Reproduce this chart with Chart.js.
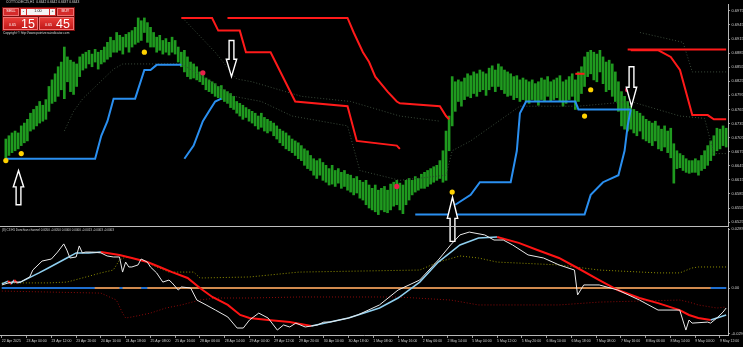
<!DOCTYPE html>
<html><head><meta charset="utf-8">
<script src="https://cdn.jsdelivr.net/npm/chart.js@4.4.1/dist/chart.umd.min.js"></script>
<style>
html,body{margin:0;padding:0;background:#000;width:743px;height:347px;overflow:hidden;}
#wrap{position:relative;width:743px;height:347px;}
canvas{position:absolute;left:0;}
#ind{top:227px;z-index:1;}
#main{top:0;z-index:2;pointer-events:none;}
.t{position:absolute;font-family:"Liberation Sans",Arial,sans-serif;color:#d8d8d8;white-space:nowrap;line-height:1;z-index:5;}
.p{position:absolute;z-index:6;font-family:"Liberation Sans",Arial,sans-serif;line-height:1;box-sizing:border-box;}
.btn{background:#d42a2a;color:#fff;font-size:3.8px;display:flex;align-items:center;justify-content:center;border:0.5px solid #f07070;}
.wbox{background:#f4f4f4;color:#222;font-size:3.8px;display:flex;align-items:center;justify-content:center;}
.big{background:linear-gradient(#ea3d38,#c01818);border:0.5px solid #f07070;}
.sm{position:absolute;color:#fff;font-size:3.6px;}
.lg{position:absolute;color:#fff;font-size:12.5px;}
</style></head>
<body><div id="wrap">
<canvas id="ind" width="743" height="120"></canvas>
<canvas id="main" width="743" height="260"></canvas>
<div class="t" style="left:6px;top:0.5px;font-size:3.3px;">COTTO-DEC25,H1&nbsp; 0.6642 0.6642 0.6637 0.6643</div>
<div class="p" style="left:2px;top:7px;width:73px;height:24px;background:#7a0e0e;"></div>
<div class="p btn" style="left:3px;top:8px;width:16px;height:8px;">SELL</div>
<div class="p" style="left:20px;top:8px;width:36px;height:8px;background:#d42a2a;"></div>
<div class="p wbox" style="left:21px;top:9px;width:5px;height:6px;">-</div>
<div class="p wbox" style="left:27px;top:9px;width:22px;height:6px;">1.00</div>
<div class="p wbox" style="left:50px;top:9px;width:5px;height:6px;">+</div>
<div class="p btn" style="left:57px;top:8px;width:17px;height:8px;">BUY</div>
<div class="p big" style="left:3px;top:17px;width:35px;height:13px;"><span class="sm" style="left:5px;top:5.5px;">0.65</span><span class="lg" style="left:17px;top:0px;">15</span></div>
<div class="p big" style="left:39px;top:17px;width:35px;height:13px;"><span class="sm" style="left:5px;top:5.5px;">0.65</span><span class="lg" style="left:16px;top:0px;">45</span></div>
<div class="t" style="left:3px;top:31.5px;font-size:3.2px;">Copyright © http://www.pointzero-indicator.com</div>
<div class="t" style="left:2px;top:229px;font-size:3px;">(8) C3 H1 Donchian channel 0.0050 -0.0050 0.0000 0.0000 -0.0013 -0.0003 -0.0003</div>
</div>
<script>
// ---------- DATA ----------
// time-axis labels, one every 8 hourly bars (bar 0, 8, 16, ...)
const timeLabels = ['22 Apr 2025','23 Apr 04:00','23 Apr 12:00','23 Apr 20:00','24 Apr 10:00','24 Apr 18:00','25 Apr 08:00','25 Apr 16:00','28 Apr 06:00','28 Apr 14:00','29 Apr 04:00','29 Apr 12:00','29 Apr 20:00','30 Apr 10:00','30 Apr 18:00','1 May 08:00','1 May 16:00','2 May 06:00','2 May 14:00','5 May 04:00','5 May 12:00','5 May 20:00','6 May 10:00','6 May 18:00','7 May 08:00','7 May 16:00','8 May 06:00','8 May 14:00','9 May 04:00','9 May 12:00'];
const priceTicks = [0.6975,0.6945,0.6915,0.6885,0.6855,0.6825,0.6795,0.6765,0.6735,0.6705,0.6675,0.6645,0.6615,0.6585,0.6555,0.6525];
const indTickValues = [0.0289, 0, -0.0225];
const indTickLabels = ['0.0289','0.00','-0.0291'];

// hourly bar highs / lows
const highs = [
.6702,.6709,.6715,.6719,.6715,.6730,.6736,.6744,
.6757,.6765,.6772,.6782,.6774,.6786,.6814,.6828,
.6841,.6856,.6866,.6898,.6877,.6870,.6866,.6862,
.6877,.6883,.6887,.6891,.6883,.6893,.6887,.6891,
.6898,.6908,.6919,.6912,.6929,.6923,.6919,.6925,
.6929,.6933,.6940,.6960,.6954,.6960,.6950,.6940,
.6929,.6919,.6923,.6912,.6916,.6908,.6919,.6912,
.6898,.6887,.6891,.6877,.6866,.6862,.6856,.6845,
.6839,.6832,.6828,.6824,.6820,.6814,.6816,.6807,
.6803,.6799,.6793,.6782,.6778,.6774,.6769,.6765,
.6761,.6757,.6751,.6757,.6748,.6744,.6740,.6736,
.6730,.6723,.6719,.6715,.6709,.6702,.6698,.6694,
.6688,.6681,.6677,.6667,.6660,.6656,.6660,.6652,
.6646,.6639,.6646,.6635,.6639,.6631,.6635,.6627,
.6625,.6618,.6622,.6614,.6610,.6614,.6604,.6597,
.6604,.6593,.6597,.6601,.6593,.6606,.6610,.6614,
.6608,.6604,.6614,.6618,.6614,.6622,.6618,.6627,
.6631,.6635,.6639,.6643,.6646,.6656,.6677,.6719,
.6751,.6835,.6824,.6828,.6824,.6832,.6841,.6837,
.6845,.6841,.6849,.6845,.6841,.6853,.6858,.6849,
.6862,.6856,.6849,.6845,.6841,.6835,.6837,.6828,
.6832,.6828,.6824,.6828,.6820,.6824,.6832,.6828,
.6835,.6824,.6828,.6832,.6837,.6824,.6828,.6835,
.6841,.6828,.6845,.6856,.6877,.6887,.6891,.6887,
.6883,.6891,.6877,.6866,.6870,.6862,.6845,.6824,
.6803,.6793,.6782,.6772,.6765,.6761,.6757,.6751,
.6744,.6740,.6736,.6740,.6730,.6723,.6730,.6719,
.6725,.6692,.6677,.6671,.6667,.6660,.6656,.6656,
.6660,.6656,.6667,.6677,.6688,.6698,.6709,.6725,
.6723,.6730,.6725];
const lows = [
.6660,.6667,.6673,.6677,.6681,.6688,.6694,.6698,
.6719,.6723,.6730,.6736,.6740,.6744,.6761,.6778,
.6782,.6793,.6807,.6788,.6824,.6803,.6797,.6814,
.6835,.6849,.6853,.6862,.6856,.6866,.6851,.6862,
.6866,.6872,.6877,.6887,.6887,.6891,.6883,.6898,
.6887,.6898,.6904,.6908,.6912,.6929,.6908,.6898,
.6898,.6887,.6891,.6883,.6887,.6881,.6887,.6883,
.6866,.6856,.6845,.6835,.6830,.6832,.6828,.6824,
.6818,.6807,.6803,.6799,.6793,.6790,.6786,.6782,
.6778,.6769,.6765,.6757,.6751,.6744,.6748,.6740,
.6736,.6730,.6723,.6727,.6719,.6715,.6719,.6709,
.6702,.6694,.6688,.6681,.6677,.6673,.6667,.6660,
.6656,.6646,.6639,.6635,.6625,.6618,.6625,.6614,
.6610,.6604,.6606,.6601,.6608,.6597,.6601,.6593,
.6589,.6583,.6587,.6576,.6572,.6562,.6555,.6551,
.6547,.6541,.6551,.6547,.6545,.6551,.6559,.6562,
.6551,.6543,.6562,.6572,.6583,.6589,.6593,.6597,
.6597,.6601,.6606,.6610,.6614,.6618,.6610,.6614,
.6677,.6730,.6761,.6782,.6772,.6786,.6793,.6790,
.6799,.6793,.6803,.6807,.6795,.6807,.6814,.6803,
.6814,.6807,.6799,.6793,.6795,.6786,.6790,.6782,
.6786,.6782,.6778,.6786,.6782,.6774,.6786,.6782,
.6793,.6782,.6786,.6790,.6782,.6772,.6778,.6786,
.6793,.6765,.6782,.6799,.6814,.6835,.6841,.6828,
.6824,.6845,.6820,.6803,.6807,.6793,.6782,.6761,
.6730,.6723,.6719,.6723,.6715,.6709,.6719,.6702,
.6698,.6694,.6688,.6698,.6681,.6677,.6685,.6673,
.6662,.6608,.6639,.6641,.6635,.6631,.6629,.6631,
.6631,.6625,.6635,.6639,.6646,.6656,.6667,.6677,
.6681,.6688,.6685];

// Donchian upper (red) lines: bar index / price
const redA_i = [57,67,69,76,78,86,94,111,114,127,128];
const redA_p = [.6960,.6960,.6933,.6933,.6887,.6887,.6782,.6772,.6698,.6688,.6681];
const redB_i = [72,111,113,116,118,120,124,127,128,141,143,144];
const redB_p = [.6960,.6960,.6929,.6887,.6866,.6835,.6803,.6782,.6778,.6772,.6751,.6744];
const redC_i = [202,234];
const redC_p = [.6893,.6893];
const redD_i = [203,212,216,219,223,228,230,234];
const redD_p = [.6891,.6891,.6877,.6849,.6753,.6753,.6744,.6744];
const redE_i = [185,188];
const redE_p = [.6841,.6841];
// Donchian lower (blue) lines
const blueA_i = [0,29,31,33,35,42,45,47,49,57];
const blueA_p = [.6660,.6660,.6709,.6740,.6788,.6788,.6849,.6849,.6860,.6860];
const blueB_i = [58,61,64,66,68,70];
const blueB_p = [.6660,.6688,.6740,.6761,.6782,.6788];
const blueC_i = [133,188,190,194,199,201,202,203];
const blueC_p = [.6541,.6541,.6583,.6610,.6625,.6677,.6730,.6765];
const blueD_i = [146,151,154,164,166,167,169,185,186,203];
const blueD_p = [.6562,.6583,.6610,.6610,.6677,.6757,.6782,.6782,.6765,.6765];
// Donchian middle (dotted) lines
const mid1_i = [19,22,25,35,38,57,64,74,83,93,111,115,128,143,145,151,167,186,203,219,227,230,234];
const mid1_p = [.6719,.6761,.6788,.6851,.6862,.6862,.6835,.6793,.6782,.6751,.6730,.6635,.6614,.6625,.6677,.6698,.6772,.6772,.6782,.6751,.6746,.6671,.6671];
const mid2_i = [58,68,75,80,96,112,128,141];
const mid2_p = [.6956,.6887,.6830,.6824,.6793,.6782,.6751,.6740];
const mid3_i = [206,220,223,234];
const mid3_p = [.6929,.6908,.6845,.6845];
// signal dots
const yellowDot_i = [0,5,45,145,188,190];
const yellowDot_p = [.6656,.6671,.6887,.6589,.6751,.6807];
const redDot_i = [64,127,202];
const redDot_p = [.6843,.6601,.6807];
// arrows: bar, tip price, tail price
const arrow_i = [4,73,145,203];
const arrow_tip = [.6635,.6835,.6578,.6772];
const arrow_tail = [.6562,.6912,.6484,.6856];

// indicator pane
const white_i = [0,3,6,9,10,13,16,18,20,21,22,24,25,26,27,29,32,34,36,38,39,40,41,42,44,45,47,48,50,52,54,55,57,58,61,63,66,69,73,76,78,80,83,86,89,91,93,95,98,102,104,106,112,115,122,128,135,141,145,148,151,156,159,162,165,170,175,180,185,186,188,193,199,206,212,219,220,221,222,223,228,229,231,233,234];
const white_v = [.0015,.0029,.0029,.0054,.0088,.0132,.0142,.0176,.0216,.0186,.0147,.0152,.0206,.0172,.0176,.0176,.0172,.0157,.0152,.0152,.0078,.0127,.0103,.0103,.0113,.0142,.0127,.0103,.0074,.0029,.0039,.0025,-.0010,.0005,.0000,-.0059,-.0083,-.0108,-.0142,-.0196,-.0196,-.0157,-.0123,-.0147,-.0206,-.0181,-.0191,-.0172,-.0191,-.0181,-.0167,-.0167,-.0147,-.0132,-.0083,-.0010,.0039,.0137,.0211,.0260,.0274,.0260,.0235,.0235,.0211,.0162,.0147,.0113,.0088,-.0034,.0015,.0015,-.0010,-.0059,-.0108,-.0108,-.0157,-.0206,-.0157,-.0172,-.0167,-.0172,-.0147,-.0118,-.0098];
const signal_i = [0,2,3,4,5,6,12,15,21,24,28,32,38,42,47,51,55,60,64,68,73,77,80,86,93,100,112,122,128,135,141,148,154,160,167,173,180,186,193,199,206,212,219,222,225,229,234];
const signal_v = [.0020,.0034,.0020,.0039,.0025,.0029,.0074,.0098,.0147,.0172,.0172,.0176,.0162,.0147,.0127,.0103,.0078,.0049,.0000,-.0044,-.0083,-.0132,-.0147,-.0157,-.0167,-.0186,-.0147,-.0098,-.0049,.0029,.0127,.0211,.0245,.0250,.0221,.0186,.0147,.0098,.0039,-.0010,-.0049,-.0074,-.0108,-.0132,-.0147,-.0157,-.0132];
const upper_i = [0,15,21,26,32,36,38,40,42,45,50,54,62,64,80,96,135,141,148,154,160,180,193,212,219,223,225,234];
const upper_v = [.0025,.0025,.0029,.0049,.0074,.0088,.0137,.0152,.0147,.0137,.0103,.0078,.0078,.0049,.0054,.0078,.0088,.0127,.0157,.0147,.0127,.0113,.0088,.0074,.0074,.0098,.0103,.0103];
const lower_i = [0,32,37,39,40,42,48,53,58,64,69,80,96,128,145,154,180,193,219,222,225,231,234];
const lower_v = [-.0015,-.0025,-.0059,-.0123,-.0147,-.0142,-.0123,-.0098,-.0083,-.0059,-.0049,-.0049,-.0044,-.0044,-.0059,-.0083,-.0083,-.0069,-.0059,-.0069,-.0083,-.0098,-.0093];
const zeroBlueRanges = [[0,30],[38,39],[45,47],[229,234]];
const nBars = highs.length;

// ---------- CHART ----------
Chart.defaults.font.family = '"Liberation Sans", Arial, sans-serif';
const pts = (xs, ys) => xs.map((x, k) => ({x, y: ys[k]}));
const X_MIN = -0.6, X_MAX = nBars - 0.4;
const Y_MAX = 0.69897, Y_MIN = 0.65167;
const IND_MAX = 0.02939, IND_MIN = -0.02302;
const RED = '#ff1a1a', BLUE = '#2a8ff0', MID = '#3a4a3a';

const lineDs = (xs, ys, color, width, dash, order) => ({
  type: 'line', data: pts(xs, ys), borderColor: color, borderWidth: width,
  borderDash: dash || [], pointRadius: 0, tension: 0, fill: false, order: order
});
const dotDs = (xs, ys, color) => ({
  type: 'line', data: pts(xs, ys), showLine: false, pointRadius: 2.6,
  pointBackgroundColor: color, pointBorderWidth: 0, order: 0, clip: false
});

const mainFrame = {
  id: 'mainFrame',
  afterDraw(chart) {
    const {ctx, chartArea: a} = chart;
    ctx.save(); ctx.strokeStyle = '#bdbdbd'; ctx.lineWidth = 1;
    ctx.beginPath(); ctx.moveTo(0, Math.round(a.bottom) + 0.5); ctx.lineTo(a.right, Math.round(a.bottom) + 0.5); ctx.stroke();
    ctx.restore();
  }
};
const arrows = {
  id: 'arrows',
  afterDatasetsDraw(chart) {
    const {ctx, scales: {x, y}} = chart;
    ctx.save();
    arrow_i.forEach((ix, k) => {
      const px = Math.round(x.getPixelForValue(ix)) + 0.5;
      const t = y.getPixelForValue(arrow_tip[k]);
      const b = y.getPixelForValue(arrow_tail[k]);
      const s = b > t ? 1 : -1;
      const hb = t + s * Math.abs(b - t) * 0.48;
      const hw = 5.2, sw = 2.4;
      ctx.beginPath();
      ctx.moveTo(px, t); ctx.lineTo(px + hw, hb); ctx.lineTo(px + sw, hb); ctx.lineTo(px + sw, b);
      ctx.lineTo(px - sw, b); ctx.lineTo(px - sw, hb); ctx.lineTo(px - hw, hb); ctx.closePath();
      ctx.fillStyle = '#000'; ctx.fill();
      ctx.strokeStyle = '#ffffff'; ctx.lineWidth = 1.4; ctx.stroke();
    });
    ctx.restore();
  }
};

new Chart(document.getElementById('main'), {
  type: 'bar',
  data: {datasets: [
    {type: 'bar', data: highs.map((h, i) => ({x: i, y: [lows[i], h]})), backgroundColor: '#1f9a1f', barThickness: 2, grouped: false, order: 10},
    lineDs(mid1_i, mid1_p, MID, 1, [1, 2], 6),
    lineDs(mid2_i, mid2_p, MID, 1, [1, 2], 6),
    lineDs(mid3_i, mid3_p, MID, 1, [1, 2], 6),
    lineDs(redA_i, redA_p, RED, 2, null, 2),
    lineDs(redB_i, redB_p, RED, 2, null, 2),
    lineDs(redC_i, redC_p, RED, 2, null, 2),
    lineDs(redD_i, redD_p, RED, 2, null, 2),
    lineDs(redE_i, redE_p, RED, 2, null, 2),
    lineDs(blueA_i, blueA_p, BLUE, 2, null, 2),
    lineDs(blueB_i, blueB_p, BLUE, 2, null, 2),
    lineDs(blueC_i, blueC_p, BLUE, 2, null, 2),
    lineDs(blueD_i, blueD_p, BLUE, 2, null, 2),
    dotDs(yellowDot_i, yellowDot_p, '#ffd200'),
    dotDs(redDot_i, redDot_p, '#e8204a')
  ]},
  options: {
    responsive: false, animation: false, events: [],
    layout: {padding: {top: 1, bottom: 34, left: 0, right: 0}},
    plugins: {legend: {display: false}, tooltip: {enabled: false}},
    scales: {
      x: {type: 'linear', min: X_MIN, max: X_MAX, display: false, offset: false, grid: {offset: false}},
      y: {
        position: 'right', min: Y_MIN, max: Y_MAX,
        afterBuildTicks(s) { s.ticks = priceTicks.map(v => ({value: v})); },
        afterFit(s) { s.width = 15; s.paddingTop = 0; s.paddingBottom = 0; },
        ticks: {color: '#cfcfcf', font: {size: 4}, padding: 1.5, autoSkip: false, callback: v => v.toFixed(4)},
        grid: {drawOnChartArea: false, tickLength: 2, color: '#9a9a9a'},
        border: {color: '#b8b8b8'}
      }
    }
  },
  plugins: [mainFrame, arrows]
});

const zeroBlue = [];
zeroBlueRanges.forEach(([a, b]) => { zeroBlue.push({x: a, y: 0}, {x: b, y: 0}, {x: b + 0.01, y: null}); });

new Chart(document.getElementById('ind'), {
  type: 'line',
  data: {datasets: [
    {data: [{x: 0, y: 0}, {x: nBars - 1, y: 0}], borderColor: '#d08a4e', borderWidth: 2, pointRadius: 0, order: 9},
    {data: zeroBlue, borderColor: '#1f6fd0', borderWidth: 2, pointRadius: 0, spanGaps: false, order: 8},
    lineDs(upper_i, upper_v, '#8f8f00', 1, [1, 2], 7),
    lineDs(lower_i, lower_v, '#8b0a0a', 1, [1, 2], 7),
    {data: pts(signal_i, signal_v), pointRadius: 0, tension: 0, order: 2, borderColor: RED, borderWidth: 2,
     segment: {
       borderColor: c => c.p1.parsed.y >= c.p0.parsed.y ? '#8fd0f0' : '#ff1414',
       borderWidth: c => c.p1.parsed.y >= c.p0.parsed.y ? 1.5 : 2
     }},
    lineDs(white_i, white_v, '#e8e8e8', 1, null, 1)
  ]},
  options: {
    responsive: false, animation: false, events: [],
    layout: {padding: {top: 1, bottom: 0, left: 0, right: 0}},
    plugins: {legend: {display: false}, tooltip: {enabled: false}},
    scales: {
      x: {
        type: 'linear', min: X_MIN, max: X_MAX, offset: false,
        afterBuildTicks(s) { s.ticks = timeLabels.map((_, k) => ({value: k * 8})); },
        afterFit(s) { s.height = 12; s.paddingLeft = 0; s.paddingRight = 0; },
        ticks: {align: 'start', color: '#cfcfcf', font: {size: 3.5}, padding: 1, maxRotation: 0, autoSkip: false,
                callback: v => timeLabels[Math.round(v / 8)]},
        grid: {drawOnChartArea: false, tickLength: 3, color: '#9a9a9a'},
        border: {color: '#b8b8b8'}
      },
      y: {
        position: 'right', min: IND_MIN, max: IND_MAX,
        afterBuildTicks(s) { s.ticks = indTickValues.map(v => ({value: v})); },
        afterFit(s) { s.width = 15; s.paddingTop = 0; s.paddingBottom = 0; },
        ticks: {color: '#cfcfcf', font: {size: 4}, padding: 1.5, autoSkip: false, callback: (v, i) => indTickLabels[i]},
        grid: {drawOnChartArea: false, tickLength: 2, color: '#9a9a9a'},
        border: {color: '#b8b8b8'}
      }
    }
  }
});
</script>
</body></html>
